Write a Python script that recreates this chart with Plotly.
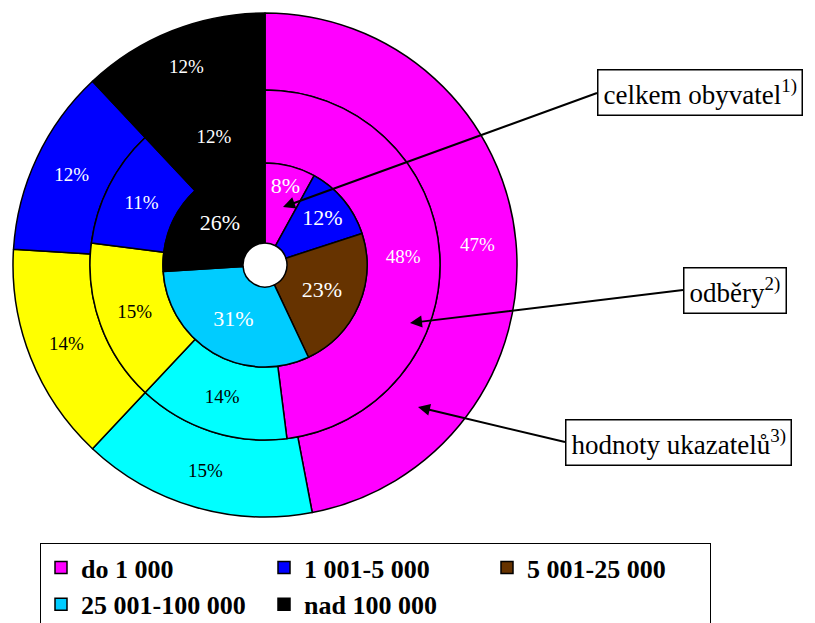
import plotly.graph_objects as go

# ---- data ----
legend_labels = ["do 1 000", "1 001-5 000", "5 001-25 000", "25 001-100 000", "nad 100 000"]
inner_values = [8, 12, 23, 31, 26]      # celkem obyvatel
middle_values = [48, 14, 15, 11, 12]    # odběry
outer_values = [47, 15, 14, 12, 12]     # hodnoty ukazatelů
inner_colors = ["#FF00FF", "#0000FF", "#663300", "#00CCFF", "#000000"]
ring_labels = ["m_do 1 000", "m_25 001-100 000", "m_5 001-25 000", "m_1 001-5 000", "m_nad 100 000"]
ring_colors = ["#FF00FF", "#00FFFF", "#FFFF00", "#0000FF", "#000000"]
ring_text_colors = ["white", "black", "black", "white", "white"]
callouts = ["celkem obyvatel<sup>1)</sup>", "odběry<sup>2)</sup>", "hodnoty ukazatelů<sup>3)</sup>"]

W, H = 815, 623
CX, CY = 265, 265  # pixel centre


def dom(r):
    return dict(x=[(CX - r) / W, (CX + r) / W], y=[(H - CY - r) / H, (H - CY + r) / H])


SERIF = "'Liberation Serif', 'Times New Roman', Times, serif"
fig = go.Figure()

fig.add_trace(go.Pie(
    labels=["o" + l for l in ring_labels], values=outer_values, sort=False, direction="clockwise",
    rotation=0, hole=175 / 252, domain=dom(252), showlegend=False,
    marker=dict(colors=ring_colors, line=dict(color="black", width=1.5)),
    texttemplate="%{value}%", textposition="inside", insidetextorientation="horizontal",
    textfont=dict(family=SERIF, size=19, color=ring_text_colors), hoverinfo="skip"))

fig.add_trace(go.Pie(
    labels=ring_labels, values=middle_values, sort=False, direction="clockwise",
    rotation=0, hole=102 / 175, domain=dom(175), showlegend=False,
    marker=dict(colors=ring_colors, line=dict(color="black", width=1.5)),
    texttemplate="%{value}%", textposition="inside", insidetextorientation="horizontal",
    textfont=dict(family=SERIF, size=19, color=ring_text_colors), hoverinfo="skip"))

fig.add_trace(go.Pie(
    labels=legend_labels, values=inner_values, sort=False, direction="clockwise",
    rotation=0, hole=22 / 102, domain=dom(102), showlegend=True,
    marker=dict(colors=inner_colors, line=dict(color="black", width=1.5)),
    texttemplate="%{value}%", textposition="inside", insidetextorientation="horizontal",
    textfont=dict(family=SERIF, size=22, color="white"), hoverinfo="skip"))


def px(x, y):
    return x / W, (H - y) / H


# callout boxes: (head pixel, tail pixel)
heads = [(283, 207), (410, 323), (418, 407)]
tails = [(597, 93), (683, 290), (565, 442)]
for txt, (hx, hy), (tx, ty) in zip(callouts, heads, tails):
    x, y = px(hx, hy)
    fig.add_annotation(
        x=x, y=y, xref="paper", yref="paper", text=txt, showarrow=True,
        ax=tx - hx, ay=ty - hy, xanchor="left", yanchor="middle",
        arrowhead=2, arrowsize=1.2, arrowwidth=2, arrowcolor="black",
        bordercolor="black", borderwidth=1.5, borderpad=5, bgcolor="white",
        font=dict(family=SERIF, size=27, color="black"))

fig.update_layout(
    width=W, height=H, margin=dict(l=0, r=0, t=0, b=0, autoexpand=False),
    paper_bgcolor="white", plot_bgcolor="white",
    font=dict(family=SERIF),
    legend=dict(orientation="h", x=40 / W, xanchor="left", y=(H - 543) / H, yanchor="top",
                xref="container", yref="container",
                bordercolor="black", borderwidth=1, bgcolor="white",
                entrywidth=178, entrywidthmode="pixels", itemwidth=30,
                font=dict(family=SERIF, size=26, color="black", weight="bold")),
)

fig.write_html("out.html")
